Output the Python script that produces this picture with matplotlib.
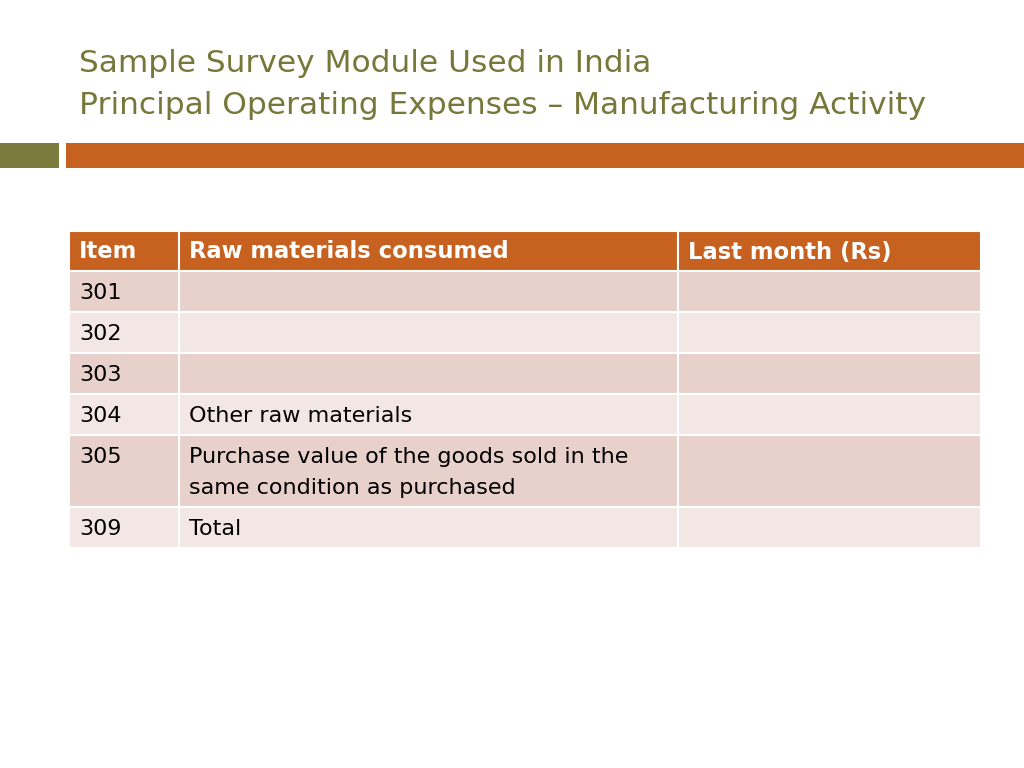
import matplotlib
matplotlib.use("Agg")
from matplotlib import pyplot as plt
from matplotlib.patches import Rectangle

# slide text / table content
title_lines = ["Sample Survey Module Used in India",
               "Principal Operating Expenses \u2013 Manufacturing Activity"]
headers = ["Item", "Raw materials consumed", "Last month (Rs)"]
items = ["301", "302", "303", "304", "305", "309"]
materials = ["", "", "", "Other raw materials",
             "Purchase value of the goods sold in the\nsame condition as purchased", "Total"]
amounts = ["", "", "", "", "", ""]

# layout in pixels (figure is 1024x768)
col_x = [69, 179, 678, 981]
row_y = [231, 271, 312, 353, 394, 435, 507, 548]

olive = "#76783A"
orange = "#C6611F"
row_dark = "#E8D1CB"
row_light = "#F3E7E5"

fig = plt.figure(figsize=(10.24, 7.68), dpi=100)
ax = fig.add_axes([0, 0, 1, 1])
ax.set_xlim(0, 1024)
ax.set_ylim(768, 0)
ax.axis("off")

# title
for i, line in enumerate(title_lines):
    ax.text(79, 63 + i * 42, line, fontsize=22.5, color=olive,
            va="center", ha="left", family="DejaVu Sans")

# decorative bars
ax.add_patch(Rectangle((0, 143), 59, 25, color="#7A7B3C", lw=0))
ax.add_patch(Rectangle((66, 143), 958, 25, color=orange, lw=0))

# table
rows = [headers] + [[a, b, c] for a, b, c in zip(items, materials, amounts)]
for r, row in enumerate(rows):
    y0, y1 = row_y[r], row_y[r + 1]
    if r == 0:
        fc = orange
    else:
        fc = row_dark if r % 2 == 1 else row_light
    for c, txt in enumerate(row):
        x0, x1 = col_x[c], col_x[c + 1]
        ax.add_patch(Rectangle((x0, y0), x1 - x0, y1 - y0, facecolor=fc,
                               edgecolor="white", lw=1.5))
        if r == 0:
            ax.text(x0 + 10, y0 + 21, txt, fontsize=16.3, fontweight="bold",
                    color="white", va="center", ha="left")
        else:
            for k, part in enumerate(txt.split("\n")):
                ax.text(x0 + 10, y0 + 22 + k * 31, part, fontsize=16,
                        color="black", va="center", ha="left")

fig.savefig("out.png", dpi=100, facecolor="white")
